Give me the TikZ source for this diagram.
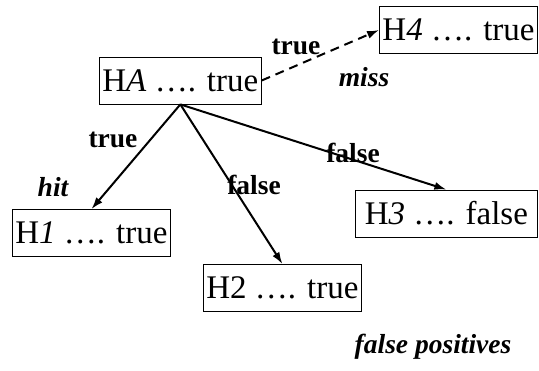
\documentclass[tikz,border=0pt]{standalone}
\usepackage{fontspec}
\setmainfont{Liberation Serif}
\usetikzlibrary{positioning,calc,arrows.meta}
\tikzset{
  >={Latex[length=12pt,width=8pt]},
  my hyp/.style={
    draw,
    rectangle,
    anchor=west,
    line width=0.8pt,
    minimum height=47pt,
    inner xsep=3pt,
    font=\fontsize{33}{33}\selectfont
  },
  my label/.style={
    font=\fontsize{27.5}{27.5}\selectfont\bfseries
  },
  my note/.style={
    font=\fontsize{27.5}{27.5}\selectfont\bfseries\itshape
  },
  my tree/.style={
    x=1pt,y=-1pt,
    line width=2pt
  }
}

\begin{document}
\begin{tikzpicture}[my tree]
\useasboundingbox (0,0) rectangle (539,371);
% Root node
\node[my hyp] (A) at (99,80.5) {H\textit{A} …. true};
% Node 4 (dashed)
\node[my hyp,anchor=east] (4) at (538,30) {H\textit{4} …. true};
\draw[->,dash pattern=on 9pt off 6pt] (A.east) -- (4.west);
\node[my label] (t4) at (296,47) {true};
\node[my note]  (miss) at (364,77) {miss};
% Node 1
\node[my hyp] (1) at (12,233) {H\textit{1} …. true};
\draw[->] (A.south) -- (1.north);
\node[my label] (t1) at (113,140) {true};
\node[my note]  (hit) at (53,187) {hit};
% Node 2
\node[my hyp] (2) at (203,288) {H2 …. true};
\draw[->] (A.south) -- (2.north);
\node[my label] (f2) at (254,185) {false};
% Node 3
\node[my hyp,minimum width=182pt] (3) at (355,213.5) {H\textit{3} …. false};
\draw[->] (A.south) -- (3.north);
\node[my label] (f3) at (353,153) {false};
% Caption
\node[my note] (fp) at (433,347) {false positives};
\end{tikzpicture}
\end{document}
